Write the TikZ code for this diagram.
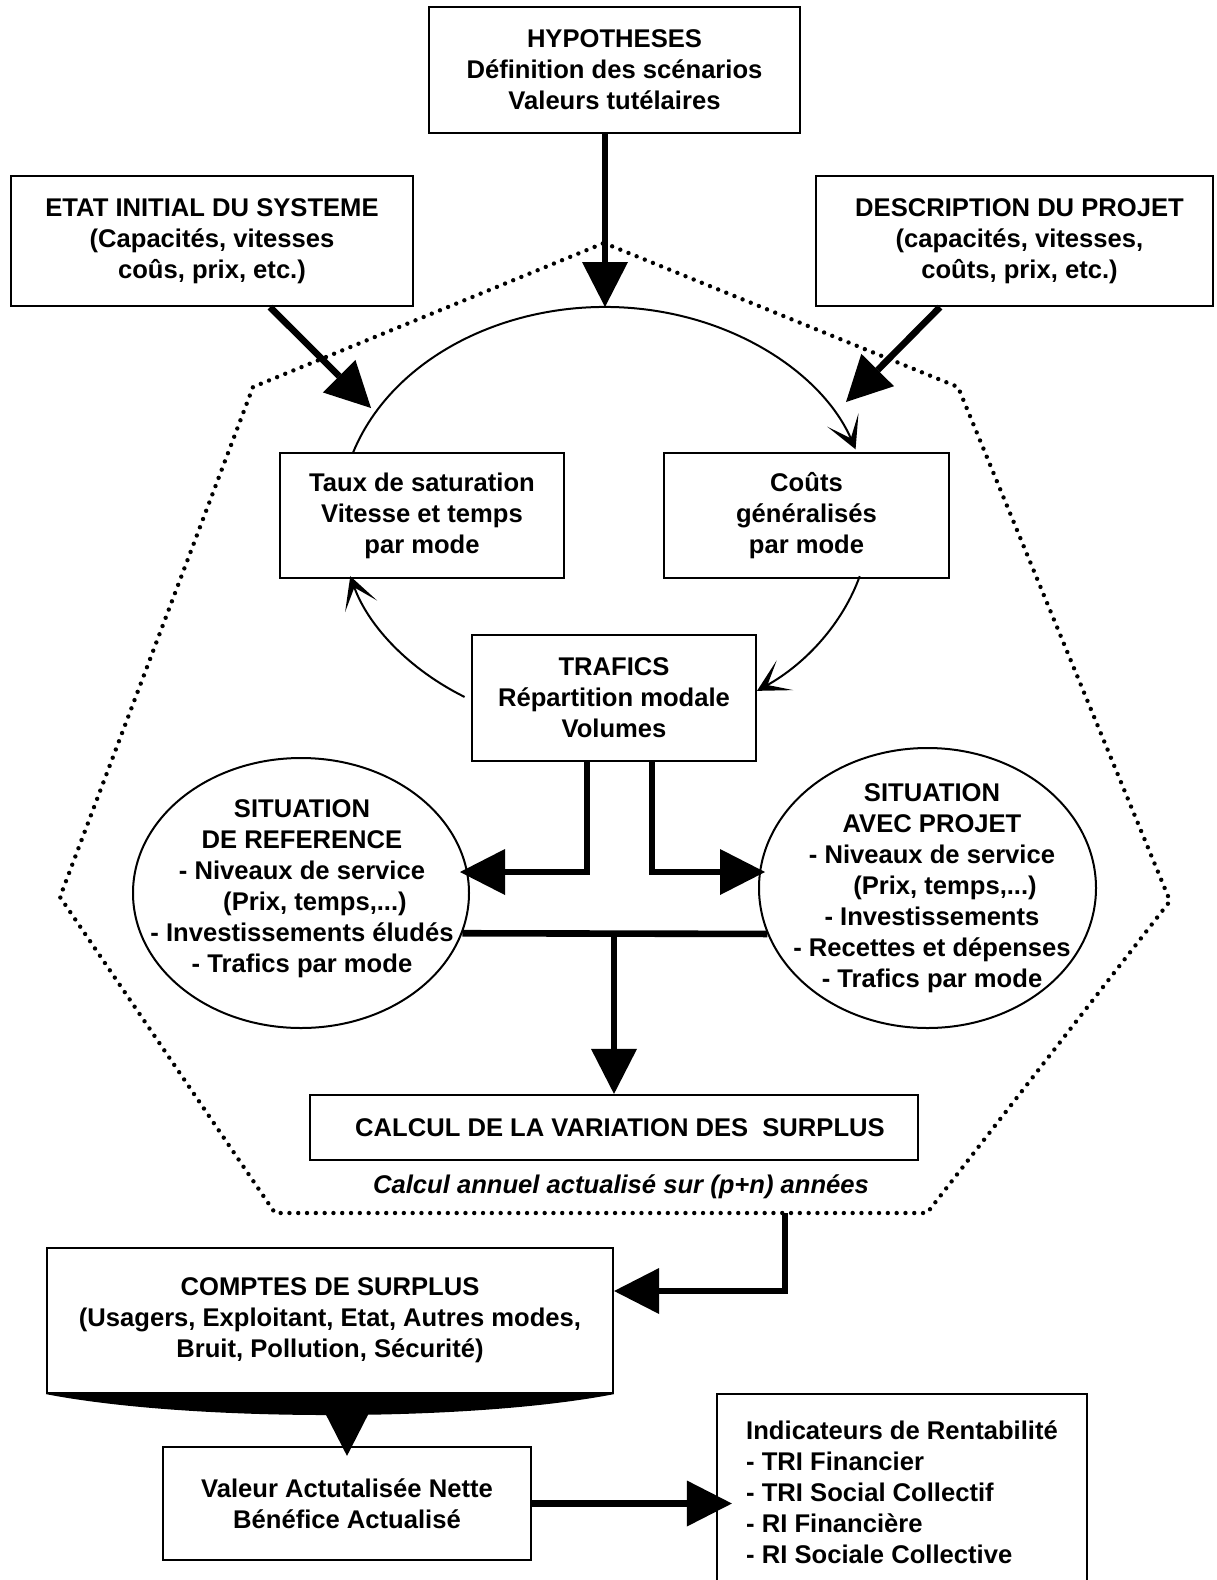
\documentclass[tikz,border=0pt]{standalone}
\usepackage{fontspec}
\setmainfont{Liberation Sans}
\usetikzlibrary{arrows.meta,shapes.geometric}
\begin{document}
\begin{tikzpicture}[x=0.5pt,y=-0.5pt,
  every node/.style={font=\fontsize{12.8}{15.5}\selectfont\bfseries},
  box/.style={draw,line width=1.1pt,inner sep=0pt,align=center},
  oval/.style={draw,ellipse,line width=1pt,inner sep=0pt},
  bigarrow/.style={line width=3.3pt,-{Triangle[length=22.5pt,width=23pt,line width=0pt]}},
  cyclearrow/.style={line width=1pt,-{Stealth[length=16pt,width=17pt,inset=10pt]}},
  dotline/.style={line width=2.2pt,line cap=round,dash pattern=on 0pt off 4.4pt},
]
\useasboundingbox (0,0) rectangle (1216,1580);
\fill[white] (0,0) rectangle (1216,1580);

% boxes
\node[box,minimum width=185.5pt,minimum height=63pt] (hyp) at (614.5,70) {HYPOTHESES\\Définition des scénarios\\Valeurs tutélaires};
\node[box,minimum width=201pt,minimum height=65pt] (etat) at (212,241) {ETAT INITIAL DU SYSTEME\\(Capacités, vitesses\\coûs, prix, etc.)};
\node[box,minimum width=198.5pt,minimum height=65pt] (desc) at (1014.5,241) {\hspace*{5pt}DESCRIPTION DU PROJET\\\hspace*{5pt}(capacités, vitesses,\\\hspace*{5pt}coûts, prix, etc.)};
\node[box,minimum width=142pt,minimum height=62.5pt] (taux) at (422,515.5) {Taux de saturation\\Vitesse et temps\\par mode};
\node[box,minimum width=142.5pt,minimum height=62.5pt] (couts) at (806.5,515.5) {Coûts\\généralisés\\par mode};
\node[box,minimum width=142pt,minimum height=63pt] (trafics) at (614,698) {TRAFICS\\Répartition modale\\Volumes};

\node[oval,minimum width=168pt,minimum height=135pt] (ref) at (301,893) {};
\node[align=center] (reftxt) at (302,888.5) {SITUATION\\DE REFERENCE\\- Niveaux de service\\\hspace*{13pt}(Prix, temps,...)\\- Investissements éludés\\- Trafics par mode};
\node[oval,minimum width=168.5pt,minimum height=140pt] (avec) at (927.5,888) {};
\node[align=center] (avectxt) at (932,888.5) {SITUATION\\AVEC PROJET\\- Niveaux de service\\\hspace*{13pt}(Prix, temps,...)\\- Investissements\\- Recettes et dépenses\\- Trafics par mode};

\node[box,minimum width=304pt,minimum height=32.5pt] (calcul) at (614,1127.5) {\hspace*{6pt}CALCUL DE LA VARIATION DES\ \ SURPLUS};
\node (note) at (621,1187) {\itshape Calcul annuel actualisé sur (p+n) années};

\node[box,minimum width=283pt,minimum height=72.5pt] (comptes) at (330,1320.5) {COMPTES DE SURPLUS\\(Usagers, Exploitant, Etat, Autres modes,\\Bruit, Pollution, Sécurité)};
\fill (comptes.south west) .. controls (190,1422) and (470,1422) .. (comptes.south east) -- cycle;
\node[box,minimum width=184pt,minimum height=56.5pt] (valeur) at (347,1503.5) {Valeur Actutalisée Nette\\Bénéfice Actualisé};
\node[box,minimum width=185pt,minimum height=98pt,align=left] (indic) at (902,1492) {Indicateurs de Rentabilité\\- TRI Financier\\- TRI Social Collectif\\- RI Financière\\- RI Sociale Collective};

% dotted boundary
\draw[dotline] (604,243) -- (958,387) -- (1170,901) -- (927,1213) -- (275,1213) -- (60,897) -- (253,387) -- cycle;

% cycle
\coordinate (ec) at (605,518);
\coordinate (etop) at (605,307);
\draw[cyclearrow] (ec) ++(-162:265 and 211) arc[start angle=-162,end angle=-19,x radius=265,y radius=211];
\draw[cyclearrow] (ec) ++(16:265 and 211) arc[start angle=16,end angle=55,x radius=265,y radius=211];
\draw[cyclearrow] (ec) ++(122:265 and 211) arc[start angle=122,end angle=164,x radius=265,y radius=211];

% inputs
\draw[bigarrow] (hyp.south -| etop) -- (etop);
\coordinate (etip) at (371,408);
\draw[bigarrow] ([xshift=29pt]etat.south) -- (etip);
\coordinate (dtip) at (846,402);
\draw[bigarrow] ([xshift=-37.25pt]desc.south) -- (dtip);

% trafics to situations
\coordinate (ltip) at (460,872);
\coordinate (rtip) at (765,872);
\draw[bigarrow] ([xshift=-13.5pt]trafics.south) |- (ltip);
\draw[bigarrow] ([xshift=19pt]trafics.south) |- (rtip);
\draw[line width=3.3pt] (ref.-14) -- (avec.196);
\draw[bigarrow,line width=2.8pt] (calcul.north |- ref.-14) -- (calcul.north);

% feedback to comptes
\coordinate (fb) at (785,1213);
\coordinate (fbrow) at (0,1291);
\draw[bigarrow] (fb) |- (comptes.east |- fbrow);
\draw[bigarrow] (comptes.south -| valeur.north) -- ([yshift=-5pt]valeur.north);
\draw[bigarrow] (valeur.east) -- ([xshift=8pt]indic.west |- valeur.east);
\end{tikzpicture}
\end{document}
